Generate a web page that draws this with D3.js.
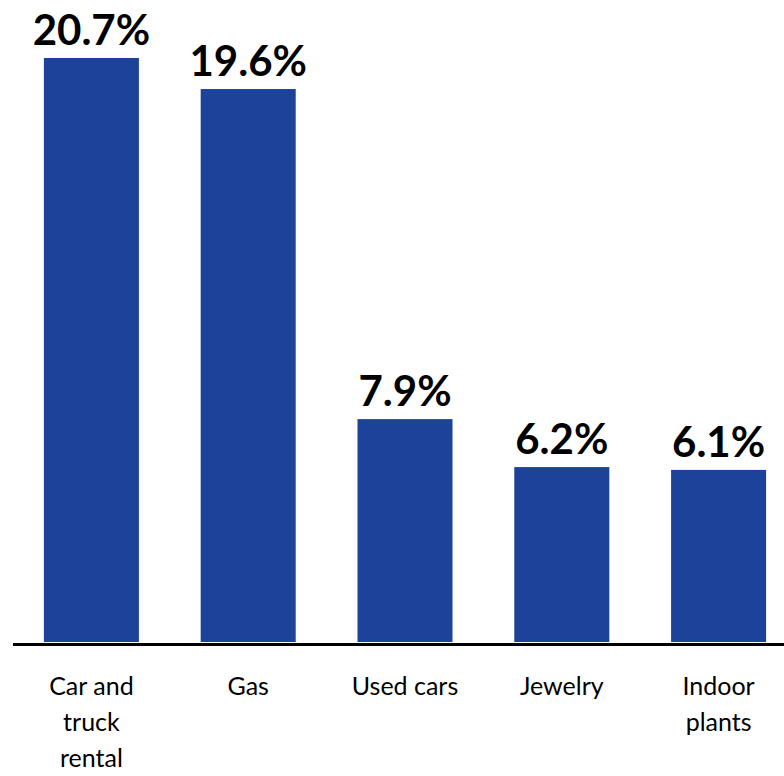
<!DOCTYPE html>
<html>
<head>
<meta charset="utf-8">
<script src="https://cdn.jsdelivr.net/npm/d3@7"></script>
<style>
  body { margin: 0; background: #fff; }
  svg { display: block; }
</style>
</head>
<body>
<svg id="chart"></svg>
<script>
// categories (line-wrapped as in the picture) and values in percent
const categories = ["Car and truck rental", "Gas", "Used cars", "Jewelry", "Indoor plants"]
const labelLines = [["Car and", "truck", "rental"], ["Gas"], ["Used cars"], ["Jewelry"], ["Indoor", "plants"]]
const values = [20.7, 19.6, 7.9, 6.2, 6.1]

let w = 784
let h = 776
let baseY = 642

let svg = d3.select("#chart")
    .attr("width", w)
    .attr("height", h)

let x = d3.scaleBand()
    .domain(categories)
    .range([13, 797])
    .paddingInner(0.394)
    .paddingOuter(0.197)

let y = d3.scaleLinear()
    .domain([0, 20.7])
    .range([baseY, 58])

svg.append("g")
    .selectAll("rect")
    .data(values)
    .join("rect")
    .attr("x", (d, i) => x(categories[i]))
    .attr("y", d => y(d))
    .attr("width", x.bandwidth())
    .attr("height", d => baseY - y(d))
    .attr("fill", "#1c4399")

// value labels
svg.append("g")
    .selectAll("text")
    .data(values)
    .join("text")
    .attr("x", (d, i) => x(categories[i]) + x.bandwidth() / 2)
    .attr("y", d => y(d) - 13)
    .attr("text-anchor", "middle")
    .style("font-family", "Lato, 'Open Sans', sans-serif")
    .style("font-weight", "bold")
    .style("font-size", "42px")
    .attr("fill", "#000")
    .text(d => d.toFixed(1) + "%")

// baseline
svg.append("line")
    .attr("x1", 13)
    .attr("x2", w)
    .attr("y1", baseY + 2.5)
    .attr("y2", baseY + 2.5)
    .attr("stroke", "#000")
    .attr("stroke-width", 3)

// category labels
let cat = svg.append("g")
    .selectAll("text")
    .data(categories)
    .join("text")
    .attr("text-anchor", "middle")
    .style("font-family", "Lato, 'Open Sans', sans-serif")
    .style("font-size", "25px")
    .attr("fill", "#000")

cat.selectAll("tspan")
    .data((d, i) => labelLines[i].map(t => ({ t: t, c: d })))
    .join("tspan")
    .attr("x", d => x(d.c) + x.bandwidth() / 2)
    .attr("y", (d, j) => 695 + j * 36)
    .text(d => d.t)
</script>
</body>
</html>
